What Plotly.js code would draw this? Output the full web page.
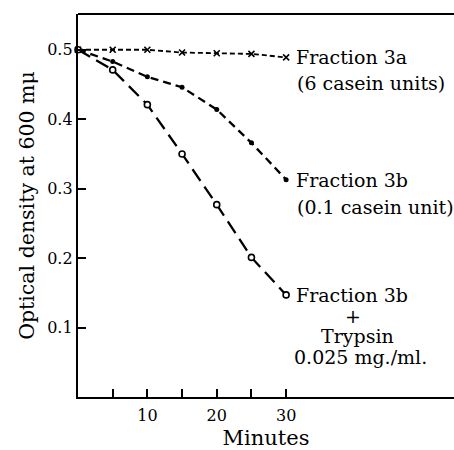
<!DOCTYPE html>
<html>
<head>
<meta charset="utf-8">
<script src="https://cdn.plot.ly/plotly-3.0.1.min.js"></script>
<style>html,body{margin:0;padding:0;background:#fff;}#chart{width:454px;height:450px;}</style>
</head>
<body>
<div id="chart"></div>
<script>
// Data
const minutes = [0, 5, 10, 15, 20, 25, 30];
const fraction3a = [0.500, 0.500, 0.500, 0.496, 0.495, 0.494, 0.489];
const fraction3b = [0.500, 0.483, 0.461, 0.446, 0.414, 0.366, 0.313];
const fraction3bTrypsin = [0.500, 0.471, 0.421, 0.350, 0.277, 0.201, 0.147];

const xTickVals = [5, 10, 15, 20, 25, 30];
const xTickText = ['', '10', '', '20', '', '30'];
const yTickVals = [0.1, 0.2, 0.3, 0.4, 0.5];
const yTickText = ['0.1', '0.2', '0.3', '0.4', '0.5'];

const W = 454, H = 450;
const M = {l: 78, r: 0, t: 14, b: 53};
const FONT = 'DejaVu Serif';

// pixel -> paper helpers for text placement
const px = x => (x - M.l) / (W - M.l - M.r);
const py = y => 1 - (y - M.t) / (H - M.t - M.b);

const traces = [
  {x: minutes, y: fraction3a, mode: 'lines+markers', cliponaxis: false,
   line: {color: '#000', width: 1.8, dash: '5px,3px'},
   marker: {symbol: 'x-thin-open', size: 6, line: {color: '#000', width: 1.6}}},
  {x: minutes, y: fraction3b, mode: 'lines+markers', cliponaxis: false,
   line: {color: '#000', width: 2.3, dash: '8px,5px'},
   marker: {symbol: 'circle', size: 5, color: '#000'}},
  {x: minutes, y: fraction3bTrypsin, mode: 'lines+markers', cliponaxis: false,
   line: {color: '#000', width: 2.3, dash: '14px,7px'},
   marker: {symbol: 'circle', size: 6, color: '#fff', line: {color: '#000', width: 1.6}}}
];

const tf = {family: FONT, size: 19, color: '#000'};
function ann(text, x, y, xanchor) {
  return {text: text, xref: 'paper', yref: 'paper', x: px(x), y: py(y),
          xanchor: xanchor || 'left', yanchor: 'middle', showarrow: false, font: tf};
}

const layout = {
  width: W, height: H,
  margin: M,
  paper_bgcolor: '#fff', plot_bgcolor: '#fff',
  showlegend: false,
  font: {family: FONT, color: '#000'},
  xaxis: {
    range: [0, 54.2], showgrid: false, zeroline: false,
    showline: true, linecolor: '#000', linewidth: 2.2,
    tickmode: 'array', tickvals: xTickVals, ticktext: xTickText,
    ticks: 'inside', ticklen: 8, tickwidth: 2, tickcolor: '#000',
    ticklabelstandoff: 3,
    tickfont: {family: FONT, size: 16, color: '#000'},
    title: {text: 'Minutes', font: {family: FONT, size: 21, color: '#000'}, standoff: 8}
  },
  yaxis: {
    range: [0, 0.5515], showgrid: false, zeroline: false,
    showline: true, linecolor: '#000', linewidth: 2.2,
    tickmode: 'array', tickvals: yTickVals, ticktext: yTickText,
    ticks: 'inside', ticklen: 8, tickwidth: 2, tickcolor: '#000',
    tickfont: {family: FONT, size: 16, color: '#000'},
    title: {text: 'Optical density at 600 mμ', font: {family: FONT, size: 20.5, color: '#000'}, standoff: 7}
  },
  shapes: [
    {type: 'line', xref: 'paper', yref: 'paper', x0: 0, x1: 1, y0: 1, y1: 1,
     line: {color: '#000', width: 2}}
  ],
  annotations: [
    ann('Fraction 3a', 294, 57),
    ann('(6 casein units)', 295, 83),
    ann('Fraction 3b', 294, 180),
    ann('(0.1 casein unit)', 295, 207),
    ann('Fraction 3b', 294, 295),
    ann('+', 353, 316, 'center'),
    ann('Trypsin', 357, 336, 'center'),
    ann('0.025 mg./ml.', 360, 357, 'center')
  ]
};

Plotly.newPlot('chart', traces, layout, {displayModeBar: false, staticPlot: true});
</script>
</body>
</html>
